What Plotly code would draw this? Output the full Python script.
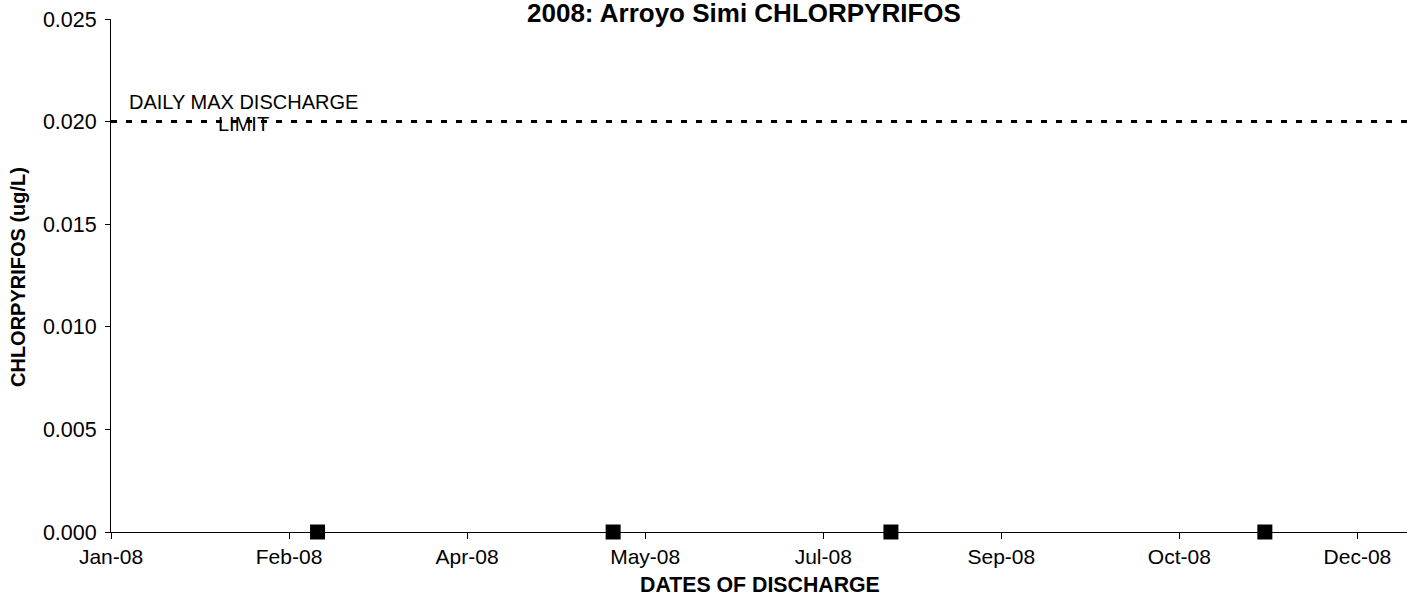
import plotly.graph_objects as go

# Data
sample_dates = ["2008-02-28", "2008-05-21", "2008-08-07", "2008-11-20"]
chlorpyrifos = [0.0, 0.0, 0.0, 0.0]

limit_dates = ["2008-01-01", "2008-12-31"]
limit_values = [0.02, 0.02]

x_tick_vals = ["2008-01-01", "2008-02-20", "2008-04-10", "2008-05-30",
               "2008-07-19", "2008-09-07", "2008-10-27", "2008-12-16"]
x_tick_text = ["Jan-08", "Feb-08", "Apr-08", "May-08", "Jul-08", "Sep-08", "Oct-08", "Dec-08"]
y_tick_vals = [0.0, 0.005, 0.010, 0.015, 0.020, 0.025]
y_tick_text = ["0.000", "0.005", "0.010", "0.015", "0.020", "0.025"]

FONT = "Liberation Sans, Arial, sans-serif"

fig = go.Figure()
fig.add_trace(go.Scatter(
    x=limit_dates, y=limit_values, mode="lines",
    line=dict(color="black", width=3, dash="6px,9px"),
    hoverinfo="skip", showlegend=False,
))
fig.add_trace(go.Scatter(
    x=sample_dates, y=chlorpyrifos, mode="markers",
    marker=dict(symbol="square", size=15, color="black", line=dict(width=0)),
    cliponaxis=False, showlegend=False,
))

fig.update_layout(
    width=1407, height=596,
    margin=dict(l=111, r=0, t=19, b=64),
    paper_bgcolor="white", plot_bgcolor="white",
    font=dict(family=FONT, size=20, color="black"),
    showlegend=False,
    xaxis=dict(
        type="date", range=["2008-01-01", "2008-12-29 22:00"],
        tickvals=x_tick_vals, ticktext=x_tick_text,
        ticks="outside", ticklen=6, tickwidth=1, tickcolor="black",
        showline=True, linecolor="black", linewidth=1,
        showgrid=False, zeroline=False,
        tickfont=dict(family=FONT, size=21, color="black"),
    ),
    yaxis=dict(
        range=[0, 0.025],
        tickvals=y_tick_vals, ticktext=y_tick_text,
        ticks="outside", ticklen=5, tickwidth=1, tickcolor="black",
        showline=True, linecolor="black", linewidth=1,
        showgrid=False, zeroline=False,
        ticklabelstandoff=4,
        tickfont=dict(family=FONT, size=21.5, color="black"),
    ),
    annotations=[
        dict(text="<b>2008: Arroyo Simi CHLORPYRIFOS</b>", xref="paper", yref="paper",
             x=(744 - 111) / 1296, y=1 + (19 - 13.5) / 513, xanchor="center", yanchor="middle",
             showarrow=False, font=dict(family=FONT, size=26, color="black")),
        dict(text="<b>CHLORPYRIFOS (ug/L)</b>", xref="paper", yref="paper",
             x=(18 - 111) / 1296, y=(532 - 277) / 513, xanchor="center", yanchor="middle", textangle=-90,
             showarrow=False, font=dict(family=FONT, size=20, color="black")),
        dict(text="<b>DATES OF DISCHARGE</b>", xref="paper", yref="paper",
             x=(760 - 111) / 1296, y=-(585 - 532) / 513, xanchor="center", yanchor="middle",
             showarrow=False, font=dict(family=FONT, size=21.3, color="black")),
        dict(text="DAILY MAX DISCHARGE", xref="paper", yref="paper",
             x=(243 - 111) / 1296, y=(532 - 102.5) / 513, xanchor="center", yanchor="middle",
             showarrow=False, font=dict(family=FONT, size=20, color="black")),
        dict(text="LIMIT", xref="paper", yref="paper",
             x=(243 - 111) / 1296, y=(532 - 124.5) / 513, xanchor="center", yanchor="middle",
             showarrow=False, font=dict(family=FONT, size=20, color="black")),
    ],
)

fig.write_html("out.html", config={"displayModeBar": False},
               post_script="document.body.style.margin='0';document.body.style.overflow='hidden';")
